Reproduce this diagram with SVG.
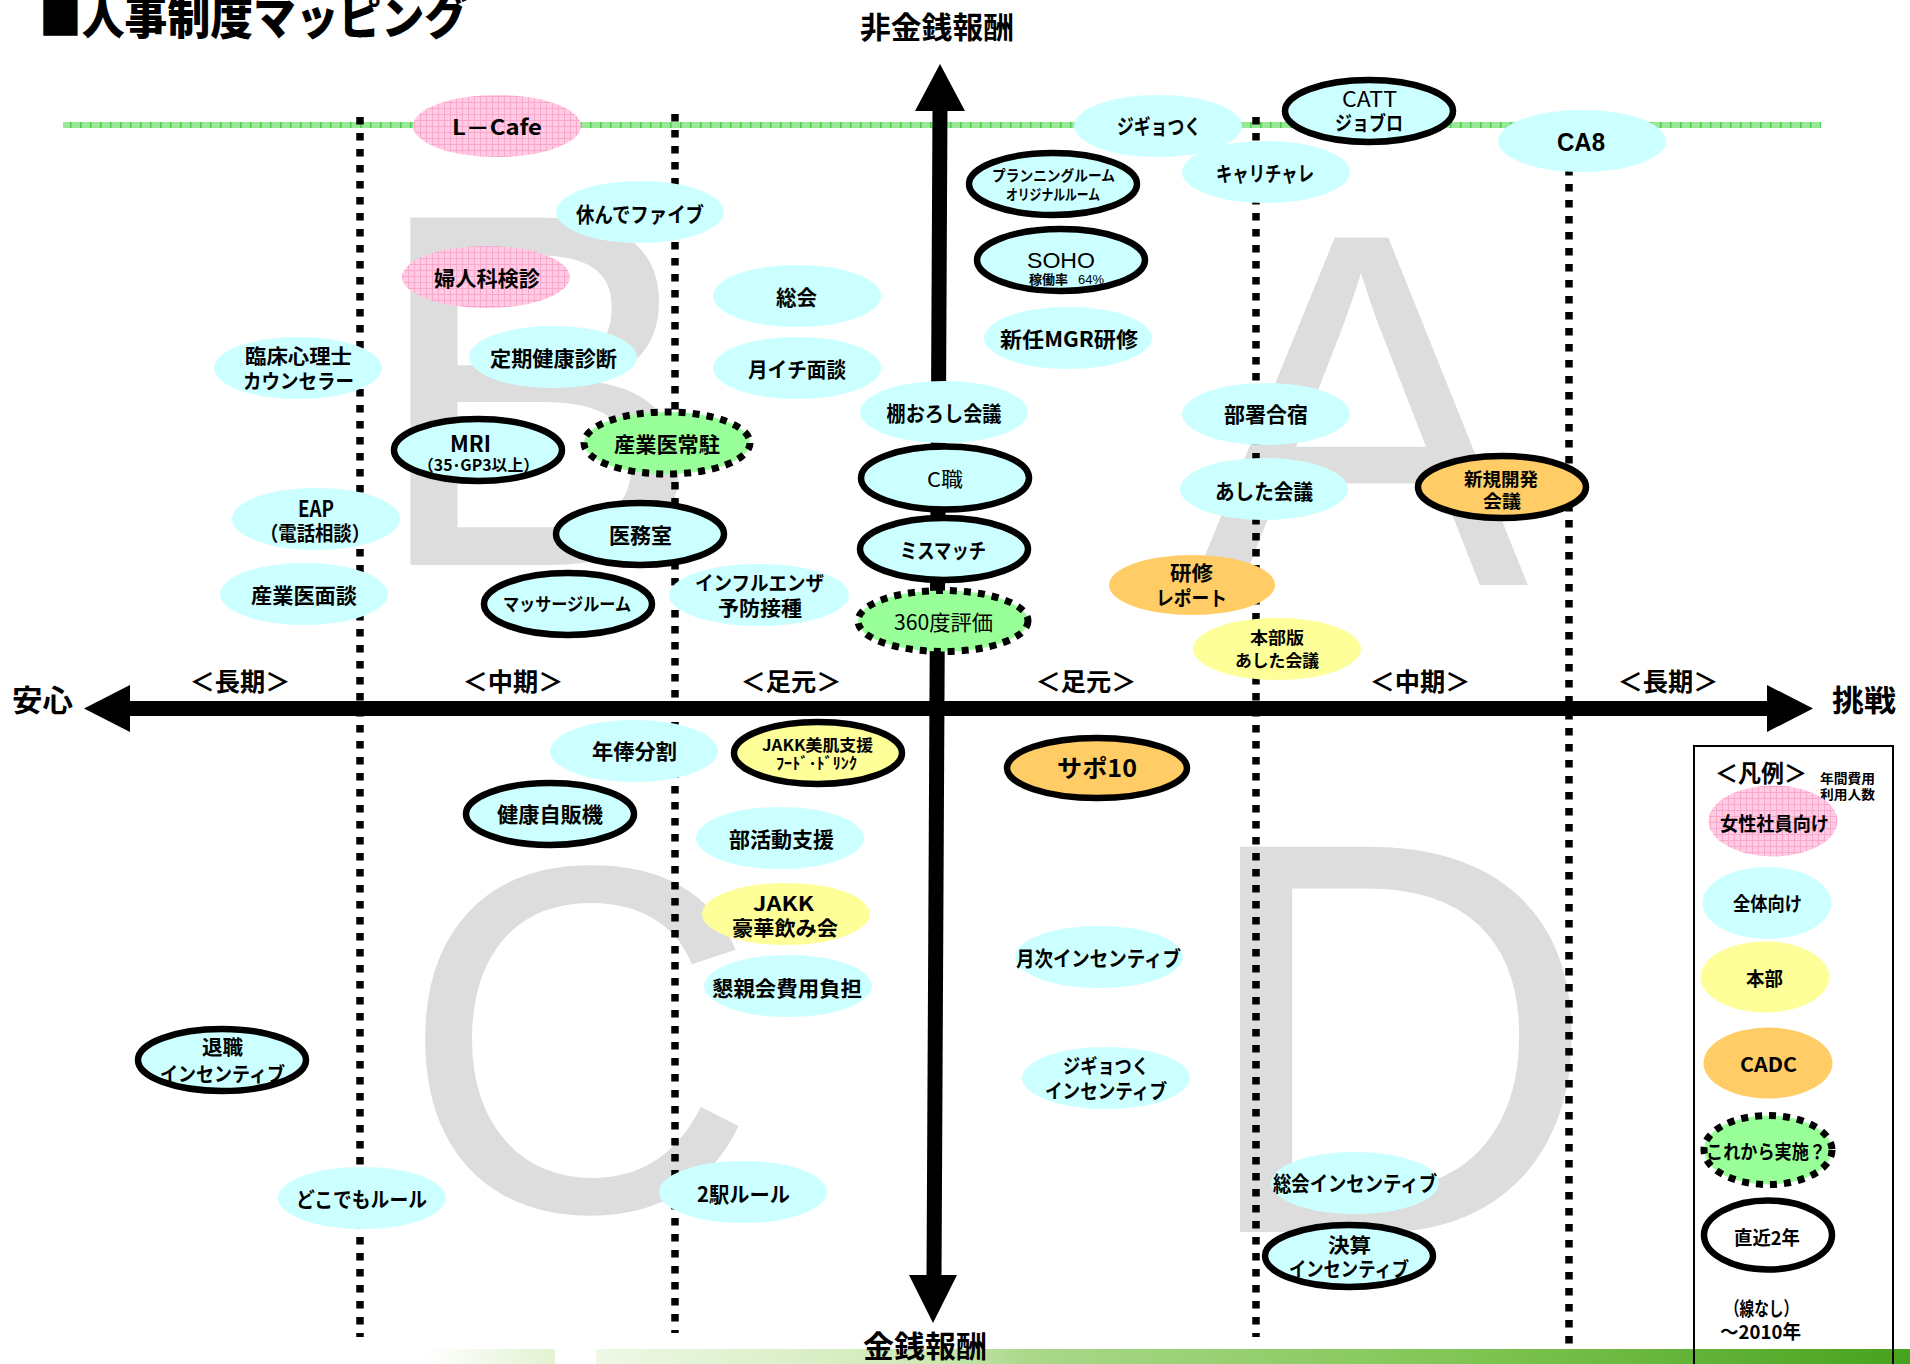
<svg xmlns="http://www.w3.org/2000/svg" width="1910" height="1364" viewBox="0 0 1910 1364">
<style>
.bg{fill:#dddddd;font-family:"Liberation Sans",Arial,sans-serif}
.t{font-family:"Noto Sans CJK JP","Liberation Sans",sans-serif;font-weight:bold;font-size:21px;text-anchor:middle;fill:#000}
.n{font-weight:normal}
.lat{font-family:"Liberation Sans","Noto Sans CJK JP",sans-serif}
.c{fill:#ccffff}
.p{fill:url(#pink)}
.y{fill:#ffff99}
.o{fill:#ffcc66}
.w{fill:#ffffff}
.k{stroke:#000;stroke-width:6.5}
.g{fill:#99ff99;stroke:#000;stroke-width:7;stroke-dasharray:7 7}
.dl{stroke:#000;stroke-width:7.5;stroke-dasharray:7.5 8.5;fill:none}
</style>
<defs>
<pattern id="pink" width="6" height="6" patternUnits="userSpaceOnUse">
<rect width="6" height="6" fill="#ffcce4"/>
<path d="M0 0.5H6M0.5 0V6" stroke="#f7a8cc" stroke-width="1"/>
</pattern>
<pattern id="gl" width="10" height="6" patternUnits="userSpaceOnUse" y="122">
<rect width="10" height="6" fill="#98e898"/>
<rect width="1.5" height="6" fill="#4ccb4c"/>
</pattern>
<linearGradient id="bar1" x1="0" x2="1" y1="0" y2="0">
<stop offset="0" stop-color="#ffffff"/>
<stop offset="1" stop-color="#e2f2d2"/>
</linearGradient>
<linearGradient id="bar2" x1="0" x2="1" y1="0" y2="0">
<stop offset="0" stop-color="#eef8e6"/>
<stop offset="0.25" stop-color="#cfeab5"/>
<stop offset="0.33" stop-color="#aad88a"/>
<stop offset="0.65" stop-color="#82c656"/>
<stop offset="1" stop-color="#48a21e"/>
</linearGradient>
</defs>
<rect width="1910" height="1364" fill="#ffffff"/>

<g id="quadrant-letters">
<text class="bg" x="369" y="565" font-size="505">B</text>
<text class="bg" x="1192" y="585" font-size="505">A</text>
<text class="bg" x="400" y="1211" font-size="495">C</text>
<text class="bg" x="1194" y="1232" font-size="560">D</text>
</g>

<g id="title">
<text class="t" x="39" y="34" style="font-size:46px;text-anchor:start;font-weight:900" textLength="428" lengthAdjust="spacingAndGlyphs">■人事制度マッピング</text>
</g>

<g id="connectors">
<rect x="63" y="122" width="1758" height="6" fill="url(#gl)"/>
<line class="dl" x1="360" y1="117" x2="360" y2="1337"/>
<line class="dl" x1="675" y1="114" x2="675" y2="1333"/>
<line class="dl" x1="1256" y1="117" x2="1256" y2="1337"/>
<line class="dl" x1="1569" y1="120" x2="1569" y2="1352"/>
<line x1="940" y1="108" x2="934" y2="1278" stroke="#000" stroke-width="15"/>
<polygon points="940,64 915,111 965,111" fill="#000"/>
<polygon points="933,1323 909,1275 957,1275" fill="#000"/>
<line x1="128" y1="708.5" x2="1769" y2="708.5" stroke="#000" stroke-width="15"/>
<polygon points="84,708.5 130,685 130,732" fill="#000"/>
<polygon points="1813,708.5 1767,685 1767,732" fill="#000"/>
</g>

<g id="bottom-bar">
<rect x="424" y="1349" width="131" height="15" fill="url(#bar1)"/>
<rect x="596" y="1349" width="1314" height="15" fill="url(#bar2)"/>
</g>

<g id="axis-labels">
<text class="t" x="937" y="38" style="font-size:30px" textLength="154" lengthAdjust="spacingAndGlyphs">非金銭報酬</text>
<text class="t" x="925" y="1357" style="font-size:30px" textLength="124" lengthAdjust="spacingAndGlyphs">金銭報酬</text>
<text class="t" x="42.5" y="711" style="font-size:30px" textLength="61" lengthAdjust="spacingAndGlyphs">安心</text>
<text class="t" x="1864" y="711" style="font-size:30px" textLength="64" lengthAdjust="spacingAndGlyphs">挑戦</text>
<text class="t" x="240" y="691" style="font-size:25px" textLength="101" lengthAdjust="spacingAndGlyphs">＜長期＞</text>
<text class="t" x="513" y="691" style="font-size:25px" textLength="101" lengthAdjust="spacingAndGlyphs">＜中期＞</text>
<text class="t" x="791" y="691" style="font-size:25px" textLength="101" lengthAdjust="spacingAndGlyphs">＜足元＞</text>
<text class="t" x="1086" y="691" style="font-size:25px" textLength="101" lengthAdjust="spacingAndGlyphs">＜足元＞</text>
<text class="t" x="1420" y="691" style="font-size:25px" textLength="101" lengthAdjust="spacingAndGlyphs">＜中期＞</text>
<text class="t" x="1668" y="691" style="font-size:25px" textLength="101" lengthAdjust="spacingAndGlyphs">＜長期＞</text>
</g>

<g id="legend">
<rect x="1694" y="746" width="199" height="640" fill="none" stroke="#000" stroke-width="2"/>
<text class="t" x="1761" y="782" style="font-size:24px" textLength="92" lengthAdjust="spacingAndGlyphs">＜凡例＞</text>
<text class="t" x="1820" y="783" style="font-size:13px;text-anchor:start" textLength="55" lengthAdjust="spacingAndGlyphs">年間費用</text>
<text class="t" x="1820" y="799" style="font-size:13px;text-anchor:start" textLength="55" lengthAdjust="spacingAndGlyphs">利用人数</text>
<g id="lg-women"><ellipse class="p" cx="1773" cy="821" rx="64.5" ry="35.5"/><text class="t" x="1774.5" y="831" style="font-size:19px" textLength="109" lengthAdjust="spacingAndGlyphs">女性社員向け</text></g>
<g id="lg-all"><ellipse class="c" cx="1767" cy="903" rx="64.5" ry="36"/><text class="t" x="1767.5" y="911" style="font-size:19px" textLength="69" lengthAdjust="spacingAndGlyphs">全体向け</text></g>
<g id="lg-honbu"><ellipse class="y" cx="1765" cy="977" rx="64.5" ry="35.5"/><text class="t" x="1764.5" y="986" style="font-size:19px" textLength="37" lengthAdjust="spacingAndGlyphs">本部</text></g>
<g id="lg-cadc"><ellipse class="o" cx="1768" cy="1063" rx="64.5" ry="35.5"/><text class="t" x="1768.5" y="1072" style="font-size:20px" textLength="57" lengthAdjust="spacingAndGlyphs">CADC</text></g>
<g id="lg-future"><ellipse class="g" cx="1768" cy="1150" rx="64" ry="34.5"/><text class="t" x="1766" y="1159" style="font-size:19px" textLength="120" lengthAdjust="spacingAndGlyphs">これから実施？</text></g>
<g id="lg-recent"><ellipse class="w k" cx="1768" cy="1235" rx="64" ry="34.5"/><text class="t" x="1767" y="1245" style="font-size:19px" textLength="66" lengthAdjust="spacingAndGlyphs">直近2年</text></g>
<text class="t" x="1761.5" y="1316" style="font-size:19px" textLength="73" lengthAdjust="spacingAndGlyphs">（線なし）</text>
<text class="t" x="1760.5" y="1339" style="font-size:19px" textLength="81" lengthAdjust="spacingAndGlyphs">～2010年</text>
</g>

<g id="n-lcafe"><ellipse class="p" cx="497" cy="126" rx="84" ry="31"/><text class="t" x="497" y="135" textLength="90" lengthAdjust="spacingAndGlyphs">L－Cafe</text></g>
<g id="n-yasunde"><ellipse class="c" cx="640" cy="212" rx="84" ry="31"/><text class="t" x="640" y="222" textLength="128" lengthAdjust="spacingAndGlyphs">休んでファイブ</text></g>
<g id="n-fujinka"><ellipse class="p" cx="486" cy="277" rx="84" ry="31"/><text class="t" x="487" y="286" textLength="106" lengthAdjust="spacingAndGlyphs">婦人科検診</text></g>
<g id="n-soukai"><ellipse class="c" cx="797" cy="296" rx="84" ry="31"/><text class="t" x="796.5" y="305" textLength="41" lengthAdjust="spacingAndGlyphs">総会</text></g>
<g id="n-rinsho"><ellipse class="c" cx="298" cy="368" rx="84" ry="31"/><text class="t" x="298.5" y="364" style="font-size:20px" textLength="107" lengthAdjust="spacingAndGlyphs">臨床心理士</text><text class="t" x="298.5" y="389" style="font-size:20px" textLength="111" lengthAdjust="spacingAndGlyphs">カウンセラー</text></g>
<g id="n-teiki"><ellipse class="c" cx="553" cy="357" rx="84" ry="31"/><text class="t" x="553.5" y="366" textLength="127" lengthAdjust="spacingAndGlyphs">定期健康診断</text></g>
<g id="n-tsukiichi"><ellipse class="c" cx="797" cy="368" rx="84" ry="31"/><text class="t" x="797" y="377" textLength="98" lengthAdjust="spacingAndGlyphs">月イチ面談</text></g>
<g id="n-tanaoroshi"><ellipse class="c" cx="944" cy="412" rx="84" ry="31"/><text class="t" x="944" y="421" textLength="115" lengthAdjust="spacingAndGlyphs">棚おろし会議</text></g>
<g id="n-mri"><ellipse class="c k" cx="478" cy="450" rx="84" ry="31"/><text class="t" x="470.5" y="452" style="font-size:22px" textLength="41" lengthAdjust="spacingAndGlyphs">MRI</text><text class="t" x="478.5" y="471" style="font-size:16px" textLength="121" lengthAdjust="spacingAndGlyphs">（35･GP3以上）</text></g>
<g id="n-sangyoui-jochu"><ellipse class="g" cx="667" cy="443" rx="83" ry="31"/><text class="t" x="667" y="452" textLength="106" lengthAdjust="spacingAndGlyphs">産業医常駐</text></g>
<g id="n-eap"><ellipse class="c" cx="316" cy="519" rx="84" ry="31"/><text class="t" x="316" y="517" style="font-size:22px" textLength="36" lengthAdjust="spacingAndGlyphs">EAP</text><text class="t" x="315" y="541" style="font-size:20px" textLength="110" lengthAdjust="spacingAndGlyphs">（電話相談）</text></g>
<g id="n-imushitsu"><ellipse class="c k" cx="640" cy="534" rx="84" ry="31"/><text class="t" x="640.5" y="543" textLength="63" lengthAdjust="spacingAndGlyphs">医務室</text></g>
<g id="n-sangyoui-mendan"><ellipse class="c" cx="304" cy="594" rx="84" ry="31"/><text class="t" x="304" y="603" textLength="106" lengthAdjust="spacingAndGlyphs">産業医面談</text></g>
<g id="n-massage"><ellipse class="c k" cx="568" cy="604" rx="84" ry="31"/><text class="t" x="567" y="611" style="font-size:18px" textLength="128" lengthAdjust="spacingAndGlyphs">マッサージルーム</text></g>
<g id="n-influenza"><ellipse class="c" cx="759" cy="595" rx="90" ry="31"/><text class="t" x="759.5" y="591" style="font-size:20px" textLength="129" lengthAdjust="spacingAndGlyphs">インフルエンザ</text><text class="t" x="760" y="616" style="font-size:20px" textLength="84" lengthAdjust="spacingAndGlyphs">予防接種</text></g>
<g id="n-cshoku"><ellipse class="c k" cx="945" cy="478" rx="84" ry="31.5"/><text class="t n" x="945" y="487" style="font-size:20px" textLength="36" lengthAdjust="spacingAndGlyphs">C職</text></g>
<g id="n-mismatch"><ellipse class="c k" cx="944" cy="549" rx="84" ry="31"/><text class="t" x="943" y="558" textLength="86" lengthAdjust="spacingAndGlyphs">ミスマッチ</text></g>
<g id="n-360"><ellipse class="g" cx="943" cy="621" rx="85" ry="30.5"/><text class="t n" x="943.5" y="630" textLength="99" lengthAdjust="spacingAndGlyphs">360度評価</text></g>

<g id="n-jigyotsuku"><ellipse class="c" cx="1158" cy="126" rx="84" ry="31"/><text class="t" x="1159" y="134" textLength="84" lengthAdjust="spacingAndGlyphs">ジギョつく</text></g>
<g id="n-catt"><ellipse class="c k" cx="1369" cy="111" rx="84" ry="31"/><text class="t n" x="1369.5" y="107" style="font-size:22px" textLength="55" lengthAdjust="spacingAndGlyphs">CATT</text><text class="t" x="1369" y="131" style="font-size:20px" textLength="68" lengthAdjust="spacingAndGlyphs">ジョブロ</text></g>
<g id="n-ca8"><ellipse class="c" cx="1582" cy="141" rx="84" ry="31"/><text class="t lat" x="1581" y="151" style="font-size:25px" textLength="48" lengthAdjust="spacingAndGlyphs">CA8</text></g>
<g id="n-carichare"><ellipse class="c" cx="1266" cy="172" rx="84" ry="31"/><text class="t" x="1265" y="181" textLength="98" lengthAdjust="spacingAndGlyphs">キャリチャレ</text></g>
<g id="n-planning"><ellipse class="c k" cx="1053" cy="184" rx="84" ry="31"/><text class="t" x="1053.5" y="181" style="font-size:15px" textLength="123" lengthAdjust="spacingAndGlyphs">プランニングルーム</text><text class="t" x="1053" y="200" style="font-size:15px" textLength="94" lengthAdjust="spacingAndGlyphs">オリジナルルーム</text></g>
<g id="n-soho"><ellipse class="c k" cx="1061" cy="260" rx="84" ry="31"/><text class="t n lat" x="1061" y="268" style="font-size:22px" textLength="68" lengthAdjust="spacingAndGlyphs">SOHO</text><text class="t" x="1029" y="284" style="font-size:13px;text-anchor:start" textLength="39" lengthAdjust="spacingAndGlyphs">稼働率</text><text class="t n lat" x="1078" y="284" style="font-size:13px;text-anchor:start" textLength="26" lengthAdjust="spacingAndGlyphs">64%</text></g>
<g id="n-shinnin"><ellipse class="c" cx="1068" cy="338" rx="84" ry="31"/><text class="t" x="1069" y="347" textLength="138" lengthAdjust="spacingAndGlyphs">新任MGR研修</text></g>
<g id="n-busho"><ellipse class="c" cx="1266" cy="414" rx="84" ry="31"/><text class="t" x="1266" y="422" textLength="84" lengthAdjust="spacingAndGlyphs">部署合宿</text></g>
<g id="n-ashita"><ellipse class="c" cx="1264" cy="489" rx="84" ry="31"/><text class="t" x="1264" y="499" textLength="98" lengthAdjust="spacingAndGlyphs">あした会議</text></g>
<g id="n-shinki"><ellipse class="o k" cx="1502" cy="487" rx="84" ry="31"/><text class="t" x="1501" y="486" style="font-size:18px" textLength="74" lengthAdjust="spacingAndGlyphs">新規開発</text><text class="t" x="1502" y="508" style="font-size:18px" textLength="38" lengthAdjust="spacingAndGlyphs">会議</text></g>
<g id="n-kenshu"><ellipse class="o" cx="1192" cy="585" rx="83" ry="30"/><text class="t" x="1191.5" y="581" style="font-size:20px" textLength="43" lengthAdjust="spacingAndGlyphs">研修</text><text class="t" x="1191.5" y="606" style="font-size:20px" textLength="71" lengthAdjust="spacingAndGlyphs">レポート</text></g>
<g id="n-honbuban"><ellipse class="y" cx="1277" cy="649" rx="84" ry="31"/><text class="t" x="1277" y="644" style="font-size:17px" textLength="54" lengthAdjust="spacingAndGlyphs">本部版</text><text class="t" x="1277" y="667" style="font-size:17px" textLength="84" lengthAdjust="spacingAndGlyphs">あした会議</text></g>

<g id="n-nenpo"><ellipse class="c" cx="634" cy="751" rx="84" ry="31"/><text class="t" x="634.5" y="759" textLength="85" lengthAdjust="spacingAndGlyphs">年俸分割</text></g>
<g id="n-jakk-bihada"><ellipse class="y k" cx="818" cy="753" rx="84" ry="31"/><text class="t" x="817.5" y="751" style="font-size:16px" textLength="111" lengthAdjust="spacingAndGlyphs">JAKK美肌支援</text><text class="t" x="816.5" y="769" style="font-size:16px" textLength="81" lengthAdjust="spacingAndGlyphs">ﾌｰﾄﾞ･ﾄﾞﾘﾝｸ</text></g>
<g id="n-sapo10"><ellipse class="o k" cx="1097" cy="768" rx="90" ry="30"/><text class="t" x="1097" y="777" style="font-size:24px" textLength="80" lengthAdjust="spacingAndGlyphs">サポ10</text></g>
<g id="n-kenko-jihanki"><ellipse class="c k" cx="550" cy="814" rx="84" ry="31"/><text class="t" x="550" y="822" textLength="106" lengthAdjust="spacingAndGlyphs">健康自販機</text></g>
<g id="n-bukatsu"><ellipse class="c" cx="780" cy="838" rx="84" ry="31"/><text class="t" x="781.5" y="847" textLength="105" lengthAdjust="spacingAndGlyphs">部活動支援</text></g>
<g id="n-jakk-goka"><ellipse class="y" cx="786" cy="914" rx="84" ry="31"/><text class="t" x="783.5" y="911" style="font-size:20px" textLength="61" lengthAdjust="spacingAndGlyphs">JAKK</text><text class="t" x="785" y="936" style="font-size:20px" textLength="106" lengthAdjust="spacingAndGlyphs">豪華飲み会</text></g>
<g id="n-konshinkai"><ellipse class="c" cx="788" cy="986" rx="84" ry="31"/><text class="t" x="787" y="996" textLength="150" lengthAdjust="spacingAndGlyphs">懇親会費用負担</text></g>
<g id="n-taishoku"><ellipse class="c k" cx="222" cy="1060" rx="84" ry="31"/><text class="t" x="222.5" y="1055" style="font-size:20px" textLength="41" lengthAdjust="spacingAndGlyphs">退職</text><text class="t" x="222.5" y="1082" style="font-size:20px" textLength="125" lengthAdjust="spacingAndGlyphs">インセンティブ</text></g>
<g id="n-dokodemo"><ellipse class="c" cx="362" cy="1198" rx="84" ry="31"/><text class="t" x="361.5" y="1207" textLength="131" lengthAdjust="spacingAndGlyphs">どこでもルール</text></g>
<g id="n-2eki"><ellipse class="c" cx="743" cy="1192" rx="84" ry="31"/><text class="t" x="743.5" y="1202" textLength="93" lengthAdjust="spacingAndGlyphs">2駅ルール</text></g>
<g id="n-getsuji"><ellipse class="c" cx="1099" cy="957" rx="84" ry="31"/><text class="t" x="1098.5" y="966" textLength="165" lengthAdjust="spacingAndGlyphs">月次インセンティブ</text></g>
<g id="n-jigyotsuku-inc"><ellipse class="c" cx="1106" cy="1078" rx="84" ry="31"/><text class="t" x="1106" y="1074" style="font-size:20px" textLength="86" lengthAdjust="spacingAndGlyphs">ジギョつく</text><text class="t" x="1106" y="1099" style="font-size:20px" textLength="122" lengthAdjust="spacingAndGlyphs">インセンティブ</text></g>
<g id="n-soukai-inc"><ellipse class="c" cx="1355" cy="1183" rx="84" ry="31"/><text class="t" x="1355" y="1191" textLength="164" lengthAdjust="spacingAndGlyphs">総会インセンティブ</text></g>
<g id="n-kessan"><ellipse class="c k" cx="1349" cy="1256" rx="84" ry="31"/><text class="t" x="1349.5" y="1253" style="font-size:20px" textLength="43" lengthAdjust="spacingAndGlyphs">決算</text><text class="t" x="1349" y="1277" style="font-size:20px" textLength="120" lengthAdjust="spacingAndGlyphs">インセンティブ</text></g>
</svg>
